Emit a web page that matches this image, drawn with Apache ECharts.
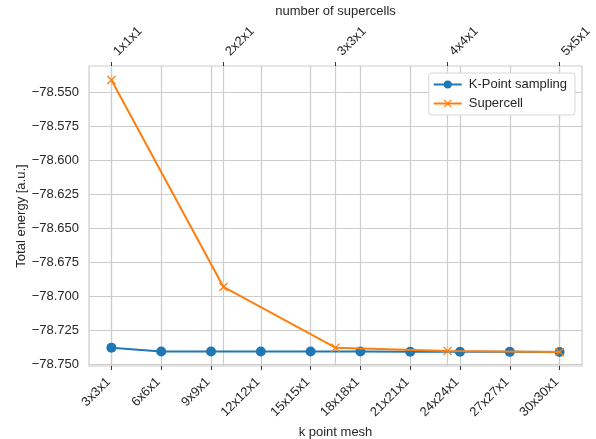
<!DOCTYPE html>
<html><head><meta charset="utf-8">
<script src="https://cdn.jsdelivr.net/npm/echarts@6/dist/echarts.min.js"></script>
<style>html,body{margin:0;padding:0;background:#fff}#c{width:596px;height:439px}</style>
</head><body><div id="c"></div>
<script>
const kMesh = ['3x3x1','6x6x1','9x9x1','12x12x1','15x15x1','18x18x1','21x21x1','24x24x1','27x27x1','30x30x1'];
const supercells = ['1x1x1','2x2x1','3x3x1','4x4x1','5x5x1'];
const kpointEnergy = [-78.7380, -78.7408, -78.7409, -78.7409, -78.7409, -78.7409, -78.7410, -78.7410, -78.7411, -78.7412];
const supercellEnergy = [-78.5412, -78.6934, -78.7380, -78.7404, -78.7412];
const yTicks = [-78.750, -78.725, -78.700, -78.675, -78.650, -78.625, -78.600, -78.575, -78.550];

const FONT = 'Liberation Sans, Arial, sans-serif';
const TXT = '#262626';
const crossPath = 'path://M0,1L1,0L5,4L9,0L10,1L6,5L10,9L9,10L5,6L1,10L0,9L4,5Z';

const chart = echarts.init(document.getElementById('c'), null, {renderer:'canvas'});
chart.setOption({
  animation: false,
  backgroundColor: '#fff',
  textStyle: {fontFamily: FONT},
  grid: {left: 89, right: 14, top: 66, bottom: 73, show: true, borderColor: '#cccccc', borderWidth: 1.2, backgroundColor: '#fff', outerBoundsMode: 'none', containLabel: false},
  legend: {
    orient: 'vertical', right: 21, top: 73,
    backgroundColor: '#fff', borderColor: '#d6d6d6', borderWidth: 1, borderRadius: 3,
    padding: [5, 8, 5, 4], itemGap: 6, itemWidth: 28, itemHeight: 10,
    textStyle: {fontFamily: FONT, fontSize: 13, color: TXT, padding: [0,0,0,2]},
    data: ['K-Point sampling', 'Supercell']
  },
  xAxis: [
    {
      type: 'value', position: 'bottom', min: -0.45, max: 9.45,
      name: 'k point mesh', nameLocation: 'middle', nameGap: 57,
      nameTextStyle: {fontFamily: FONT, fontSize: 13, color: TXT},
      axisLine: {show: false},
      axisTick: {show: true, length: 4, lineStyle: {color: '#333', width: 1}, customValues: kMesh.map((_, i) => i)},
      axisLabel: {customValues: kMesh.map((_, i) => i), rotate: 45, margin: 11, padding: [0, 4, 0, 0], fontFamily: FONT, fontSize: 13, color: TXT,
        formatter: v => kMesh[Math.round(v)] || ''},
      splitLine: {show: true, lineStyle: {color: '#cccccc', width: 1.2}}
    },
    {
      type: 'value', position: 'top', min: -0.2, max: 4.2,
      name: 'number of supercells', nameLocation: 'middle', nameGap: 44,
      nameTextStyle: {fontFamily: FONT, fontSize: 13, color: TXT},
      axisLine: {show: false},
      axisTick: {show: true, length: 4, lineStyle: {color: '#333', width: 1}, customValues: supercells.map((_, i) => i)},
      axisLabel: {customValues: supercells.map((_, i) => i), rotate: -45, margin: 8, padding: [0, 0, 0, 6], fontFamily: FONT, fontSize: 13, color: TXT,
        formatter: v => supercells[Math.round(v)] || ''},
      splitLine: {show: true, lineStyle: {color: '#cccccc', width: 1.2}}
    }
  ],
  yAxis: {
    type: 'value', min: -78.7515, max: -78.5309,
    name: 'Total energy [a.u.]', nameLocation: 'middle', nameGap: 61, nameMoveOverlap: false,
    nameTextStyle: {fontFamily: FONT, fontSize: 13, color: TXT},
    axisLine: {show: false},
    axisTick: {show: false, customValues: yTicks},
    axisLabel: {customValues: yTicks, margin: 10, fontFamily: FONT, fontSize: 13, color: TXT,
      formatter: v => (v < 0 ? '\u2212' : '') + Math.abs(v).toFixed(3)},
    splitLine: {show: true, lineStyle: {color: '#cccccc', width: 1.2}}
  },
  series: [
    {
      name: 'K-Point sampling', type: 'line', xAxisIndex: 0,
      data: kpointEnergy.map((v, i) => [i, v]),
      symbol: 'circle', symbolSize: 10, showAllSymbol: true,
      lineStyle: {color: '#1f77b4', width: 2}, itemStyle: {color: '#1f77b4'}, z: 2
    },
    {
      name: 'Supercell', type: 'line', xAxisIndex: 1,
      data: supercellEnergy.map((v, i) => [i, v]),
      symbol: crossPath, symbolSize: 9, showAllSymbol: true,
      lineStyle: {color: '#ff7f0e', width: 2}, itemStyle: {color: '#ff7f0e'}, z: 3
    }
  ]
});
</script></body></html>
